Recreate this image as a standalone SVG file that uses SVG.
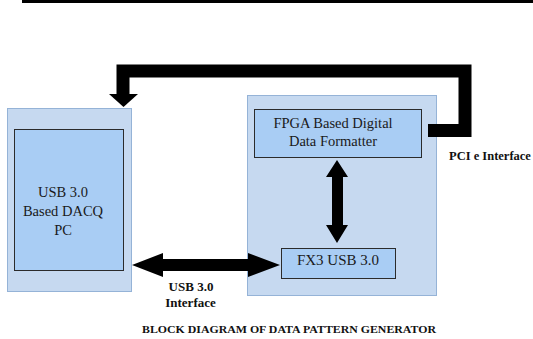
<svg xmlns="http://www.w3.org/2000/svg" width="533" height="339" viewBox="0 0 533 339">
  <style>
    .outer { fill: #c6d9f0; stroke: #95b3d7; stroke-width: 1; }
    .inner { fill: #a9cdf4; stroke: #2b2b2b; stroke-width: 1; }
    .lbl { font-family: "Liberation Serif", "Times New Roman", serif; fill: #1a1a1a; text-anchor: middle; }
    .cap { font-family: "Liberation Serif", "Times New Roman", serif; font-weight: bold; fill: #111; }
    .wire { fill: none; stroke: #000; stroke-linejoin: miter; }
    .head { fill: #000; }
  </style>

  <!-- page rule -->
  <rect x="22" y="0" width="511" height="3" fill="#000"/>

  <!-- acquisition PC -->
  <g id="pc">
    <rect class="outer" x="7.5" y="108.5" width="124" height="183"/>
    <rect class="inner" x="14.5" y="129.5" width="109" height="141"/>
    <text class="lbl" x="63" y="197" font-size="14.5">USB 3.0</text>
    <text class="lbl" x="63" y="216" font-size="14.5">Based DACQ</text>
    <text class="lbl" x="63" y="235" font-size="14.5">PC</text>
  </g>

  <!-- generator board -->
  <g id="board">
    <rect class="outer" x="247.5" y="95.5" width="189" height="200"/>
  </g>

  <g id="fpga">
    <rect class="inner" x="254.5" y="109.5" width="167" height="48"/>
    <text class="lbl" x="333" y="127.5" font-size="14.5">FPGA Based Digital</text>
    <text class="lbl" x="333" y="146" font-size="14.5">Data Formatter</text>
  </g>

  <g id="fx3">
    <rect class="inner" x="281.5" y="248.5" width="114" height="30"/>
    <text class="lbl" x="338" y="265" font-size="15">FX3 USB 3.0</text>
  </g>

  <!-- connectors -->
  <g id="connectors">
    <!-- PCIe return path -->
    <polyline class="wire" stroke-width="13" points="428,130.5 465,130.5 465,71 123,71 123,95"/>
    <polygon class="head" points="109,94 138,94 123.5,107"/>

    <!-- FPGA <-> FX3 -->
    <polygon class="head" points="337,160 348,177 343,177 343,225 348,225 337,243 326,225 332,225 332,177 326,177"/>

    <!-- PC <-> FX3 -->
    <polygon class="head" points="132,265 163,253 163,259 248,259 248,253 280,265 248,277 248,271 163,271 163,277"/>
  </g>

  <!-- interface labels -->
  <text class="cap" x="449" y="160" font-size="12.5">PCI e Interface</text>
  <text class="cap" x="191" y="291" font-size="13" text-anchor="middle">USB 3.0</text>
  <text class="cap" x="190.5" y="307" font-size="13" text-anchor="middle">Interface</text>

  <!-- caption -->
  <text class="cap" x="142" y="333" font-size="10" textLength="294" lengthAdjust="spacingAndGlyphs">BLOCK DIAGRAM OF DATA PATTERN GENERATOR</text>
</svg>
